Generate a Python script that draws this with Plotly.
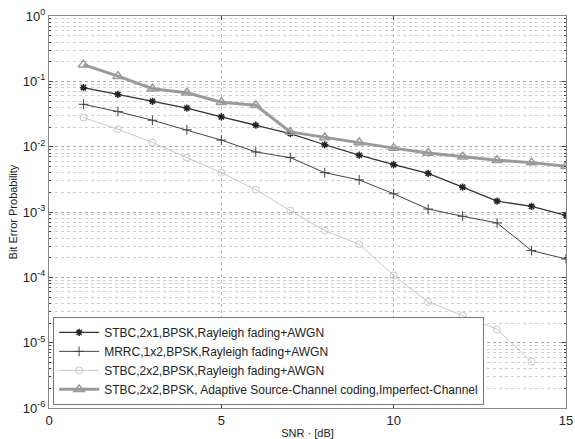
import plotly.graph_objects as go

snr = list(range(1, 16))
stbc_2x1 = [0.080, 0.063, 0.0495, 0.039, 0.0285, 0.0213, 0.0159, 0.0107, 0.0074,
            0.0053, 0.0039, 0.0024, 0.00147, 0.00122, 0.00089]
mrrc_1x2 = [0.0445, 0.0344, 0.0254, 0.0181, 0.0126, 0.0083, 0.0068, 0.0040, 0.0031,
            0.0019, 0.00111, 0.00086, 0.00068, 0.000257, 0.000191]
snr_2x2 = list(range(1, 15))
stbc_2x2 = [0.0279, 0.0185, 0.0116, 0.0068, 0.0040, 0.0022, 0.00105, 0.00052, 0.00032,
            0.000107, 4.2e-5, 2.6e-5, 1.6e-5, 5.1e-6]
adaptive = [0.18, 0.12, 0.077, 0.067, 0.048, 0.043, 0.0168, 0.0138, 0.0116,
            0.0095, 0.0080, 0.0070, 0.0062, 0.0057, 0.0050]

names = [
    "STBC,2x1,BPSK,Rayleigh fading+AWGN",
    "MRRC,1x2,BPSK,Rayleigh fading+AWGN",
    "STBC,2x2,BPSK,Rayleigh fading+AWGN",
    "STBC,2x2,BPSK, Adaptive Source-Channel coding,Imperfect-Channel",
]
x_ticks = [0, 5, 10, 15]
y_exps = [0, -1, -2, -3, -4, -5, -6]
y_ticktext = ["10<sup>%d</sup>" % e for e in y_exps]
y_tickvals = [10.0 ** e for e in y_exps]

fig = go.Figure()
fig.add_trace(go.Scatter(x=snr, y=stbc_2x1, name=names[0], mode="lines+markers",
                         line=dict(color="#333333", width=1.3),
                         marker=dict(symbol="asterisk-open", size=6, color="#222222",
                                     line=dict(width=1.5, color="#222222"))))
fig.add_trace(go.Scatter(x=snr, y=mrrc_1x2, name=names[1], mode="lines+markers",
                         line=dict(color="#444444", width=1),
                         marker=dict(symbol="cross-thin-open", size=7,
                                     line=dict(width=1, color="#333333"))))
fig.add_trace(go.Scatter(x=snr_2x2, y=stbc_2x2, name=names[2], mode="lines+markers",
                         line=dict(color="#c8c8c8", width=1),
                         marker=dict(symbol="circle-open", size=7,
                                     line=dict(width=1, color="#c0c0c0"))))
fig.add_trace(go.Scatter(x=snr, y=adaptive, name=names[3], mode="lines+markers",
                         line=dict(color="#9a9a9a", width=3),
                         marker=dict(symbol="triangle-up-open", size=9,
                                     line=dict(width=1.5, color="#a0a0a0"))))

fig.update_layout(
    width=575, height=439,
    margin=dict(l=49, r=9, t=16, b=31, autoexpand=False),
    paper_bgcolor="white", plot_bgcolor="white",
    font=dict(family="Liberation Sans, Arial, sans-serif", color="#222222", size=12),
    showlegend=True,
    legend=dict(x=0.008, y=0.008, xanchor="left", yanchor="bottom",
                bgcolor="white", bordercolor="#777777", borderwidth=1,
                font=dict(size=12), tracegroupgap=0, itemwidth=40),
)
fig.update_xaxes(
    range=[0, 15], tickvals=x_ticks, ticks="inside", ticklen=4,
    showline=True, linecolor="#888888", mirror="ticks", linewidth=1,
    showgrid=True, gridcolor="#bbbbbb", griddash="dot", gridwidth=1,
    zeroline=False, tickfont=dict(size=13), automargin=False,
    ticklabeloverflow="allow",
    title=dict(text="SNR · [dB]", font=dict(size=11), standoff=2),
)
fig.update_yaxes(
    type="log", range=[-6, 0], tickvals=y_tickvals, ticktext=y_ticktext,
    ticks="inside", ticklen=4,
    showline=True, linecolor="#888888", mirror="ticks", linewidth=1,
    showgrid=True, gridcolor="#aaaaaa", griddash="dot", gridwidth=1,
    minor=dict(dtick="D1", showgrid=True, gridcolor="#cfcfcf", griddash="dot",
               ticks="inside", ticklen=2),
    zeroline=False, tickfont=dict(size=13), automargin=False,
    ticklabeloverflow="allow",
    title=dict(text="Bit Error Probability", font=dict(size=11), standoff=2),
)

fig.write_html("out.html")
